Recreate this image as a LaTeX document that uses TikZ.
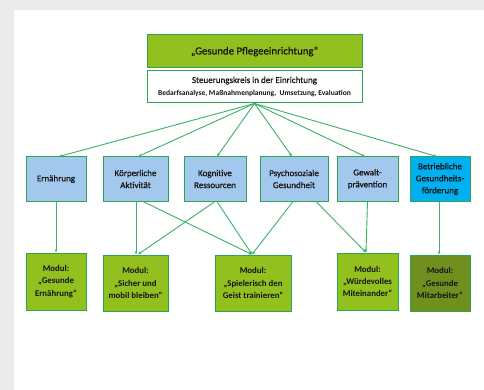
\documentclass[tikz,border=0pt]{standalone}
\usepackage{fontspec}
\setmainfont{Carlito}
\newfontface\semib{Carlito}[FakeBold=0.6]
\usetikzlibrary{arrows.meta}
\definecolor{bggray}{HTML}{EBEBEB}
\definecolor{limeg}{HTML}{92C01E}
\definecolor{bordg}{HTML}{2EA554}
\definecolor{lineg}{HTML}{3DB06A}
\definecolor{lblue}{HTML}{A3C8EE}
\definecolor{cyanb}{HTML}{00B0F0}
\definecolor{oliveg}{HTML}{6F8F1F}
\definecolor{txt}{HTML}{141414}
\begin{document}
\begin{tikzpicture}[x=1pt,y=-1pt,
  box/.style={draw=bordg,line width=1pt,inner sep=0pt,align=center,text=txt,font=\semib\fontsize{9}{12}\selectfont},
  topic/.style={box,fill=lblue,minimum height=44pt},
  modul/.style={box,fill=limeg,minimum height=56pt,font=\normalfont\bfseries\fontsize{8.8}{12.3}\selectfont},
  conn/.style={draw=lineg,line width=0.9pt,-{Latex[length=3pt,width=3pt]}}]
\useasboundingbox (0,0) rectangle (484,390);
\fill[bggray] (0,0) rectangle (484,390);
\fill[white] (14,10) rectangle (484,390);
% top
\node[box,fill=limeg,minimum width=215pt,minimum height=33pt,font=\semib\fontsize{10.8}{13}\selectfont] (title) at (254.5,51.5) {„Gesunde Pflegeeinrichtung“};
\node[box,fill=white,minimum width=215pt,minimum height=32pt] (steu) at (254.5,87)
  {Steuerungskreis  in der Einrichtung\\[1pt]{\normalfont\bfseries\fontsize{7.5}{9}\selectfont Bedarfsanalyse, Maßnahmenplanung,~ Umsetzung, Evaluation}};
% row 1
\node[topic,minimum width=60pt] (ern) at (56,179) {Ernährung};
\node[topic,minimum width=65pt] (kor) at (135.5,179) {Körperliche\\Aktivität};
\node[topic,minimum width=62pt] (kog) at (215,179) {Kognitive\\Ressourcen};
\node[topic,minimum width=68pt] (psy) at (294,179) {Psychosoziale\\Gesundheit};
\node[topic,minimum width=61pt] (gew) at (367.5,179) {Gewalt-\\prävention};
\node[topic,fill=cyanb,minimum width=60pt] (bet) at (440,179) {Betriebliche\\Gesundheits-\\förderung};
% row 2
\node[modul,minimum width=60pt,minimum height=57pt] (m1) at (56,281.5) {Modul:\\„Gesunde\\Ernährung“};
\node[modul,minimum width=65pt] (m2) at (135.5,283) {Modul:\\„Sicher und\\mobil bleiben“};
\node[modul,minimum width=76pt] (m3) at (253,283) {Modul:\\„Spielerisch den\\Geist trainieren“};
\node[modul,minimum width=61pt,minimum height=57pt] (m4) at (367.5,281.5) {Modul:\\„Würdevolles\\Miteinander“};
\node[modul,fill=oliveg,minimum width=60pt] (m5) at (440,283) {Modul:\\„Gesunde\\Mitarbeiter“};
% connectors top
\draw[conn] (steu.south) -- ([xshift=3pt]ern.north);
\draw[conn] (steu.south) -- ([xshift=2.5pt]kor.north);
\draw[conn] (steu.south) -- ([xshift=2pt]kog.north);
\draw[conn] (steu.south) -- ([xshift=-2pt]psy.north);
\draw[conn] (steu.south) -- ([xshift=-2.5pt]gew.north);
\draw[conn] (steu.south) -- ([xshift=-3pt]bet.north);
% connectors bottom
\draw[conn] (ern.south) -- (m1.north);
\draw[conn] ([xshift=0.5pt]kor.south) -- ([xshift=0.5pt]m2.north);
\draw[conn] ([xshift=7.5pt]kor.south) -- ([xshift=-1pt]m3.north);
\draw[conn] (kog.south) -- ([xshift=2.5pt]m2.north);
\draw[conn] ([xshift=2pt]kog.south) -- ([xshift=-1pt]m3.north);
\draw[conn] ([xshift=-1pt]psy.south) -- ([xshift=-1pt]m3.north);
\draw[conn] ([xshift=22pt]psy.south) -- ([xshift=-1.5pt]m4.north);
\draw[conn] (gew.south) -- ([xshift=-1.5pt]m4.north);
\draw[conn] ([xshift=-1pt]bet.south) -- ([xshift=-1pt]m5.north);
\end{tikzpicture}
\end{document}
